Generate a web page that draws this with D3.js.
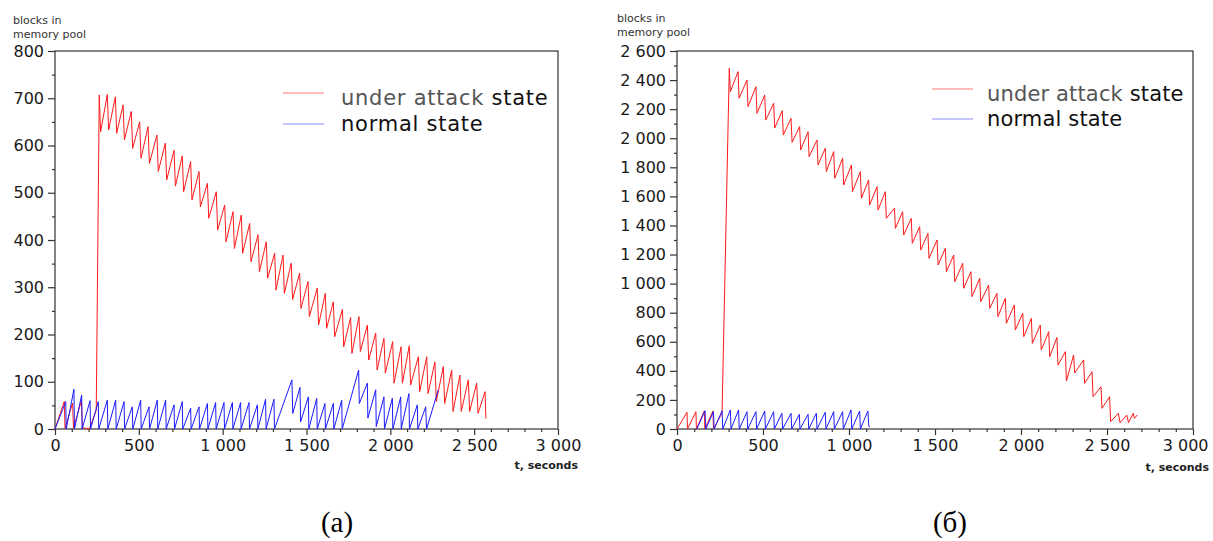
<!DOCTYPE html>
<html><head><meta charset="utf-8">
<script src="https://cdn.jsdelivr.net/npm/d3@7"></script>
<style>body{margin:0;background:#fff}svg{display:block}</style>
</head><body>
<svg id="c" width="1213" height="541"></svg>
<script>
// ---------- data ----------
const xTicks = [0, 500, 1000, 1500, 2000, 2500, 3000];
const leftYTicks = [0, 100, 200, 300, 400, 500, 600, 700, 800];
const rightYTicks = [0, 200, 400, 600, 800, 1000, 1200, 1400, 1600, 1800, 2000, 2200, 2400, 2600];
const legendLabels = ["under attack", "state", "normal state"];
const panelCaptions = ["(a)", "(б)"];
const yTitle = ["blocks in", "memory pool"];
const xTitle = "t, seconds";

// panel (a): under attack state
const leftRedT = [0,55,60,105,110,158,163,205,246,264,272,312,320,360,368,406,414,455,463,505,513,555,563,608,616,658,666,710,718,759,767,809,817,859,867,909,917,962,970,1012,1020,1062,1070,1111,1119,1161,1169,1211,1219,1260,1268,1310,1318,1360,1368,1409,1417,1459,1467,1509,1517,1564,1572,1612,1620,1660,1668,1714,1722,1763,1771,1813,1821,1863,1871,1913,1921,1962,1970,2014,2022,2064,2072,2113,2121,2167,2175,2217,2225,2266,2274,2316,2324,2366,2374,2415,2423,2465,2473,2515,2523,2565,2570];
const leftRedV = [0,58,2,55,2,60,3,0,40,707,629,708,633,703,626,686,612,672,594,650,573,640,562,622,545,605,527,590,514,578,502,566,485,545,470,520,446,502,421,474,396,460,382,453,372,435,354,411,333,396,319,372,294,368,287,351,274,330,255,312,238,298,220,287,213,269,195,253,174,236,160,238,164,220,146,203,125,192,118,185,97,174,97,176,93,153,79,153,75,142,58,132,54,125,37,114,37,104,37,97,33,79,22];
// panel (a): normal state
const leftBlueT = [0,64,67,113,116,159,162,209,212,258,261,312,315,362,365,412,415,461,464,511,514,561,564,610,613,660,663,710,713,759,762,809,812,859,862,909,912,958,961,1008,1011,1058,1061,1107,1110,1157,1160,1207,1210,1256,1259,1306,1309,1413,1418,1461,1465,1511,1514,1561,1564,1610,1613,1660,1663,1710,1713,1811,1815,1863,1866,1913,1916,1962,1965,2012,2015,2062,2065,2111,2114,2161,2164,2211,2216,2286];
const leftBlueV = [0,58,0,84,0,72,0,60,0,58,0,61,0,61,0,58,0,47,0,61,0,47,0,61,0,61,0,51,0,58,0,44,0,47,0,54,0,56,0,56,0,56,0,56,0,56,0,51,0,63,0,63,0,104,33,88,15,68,0,65,0,54,0,54,0,61,0,125,54,97,23,83,5,68,0,65,0,68,0,75,0,51,0,47,0,83];

// panel (б): under attack state
const rightRedT = [0,58,61,110,113,159,162,209,212,262,304,310,355,361,407,413,459,465,510,516,562,568,612,618,663,669,713,719,762,768,814,820,862,868,911,917,963,969,1014,1020,1066,1072,1114,1120,1163,1169,1211,1217,1264,1270,1312,1318,1362,1368,1411,1417,1459,1465,1512,1518,1560,1566,1609,1615,1661,1667,1709,1715,1760,1766,1812,1818,1860,1866,1909,1915,1961,1967,2010,2016,2060,2066,2112,2118,2161,2167,2209,2215,2258,2264,2306,2312,2364,2370,2413,2419,2465,2471,2515,2521,2566,2576,2615,2625,2653,2659,2676];
const rightRedV = [0,115,0,119,0,124,0,124,0,110,2481,2320,2458,2275,2400,2217,2355,2171,2297,2125,2240,2070,2190,2022,2137,1972,2080,1919,2045,1873,1988,1816,1931,1770,1908,1724,1862,1678,1816,1633,1770,1587,1713,1541,1667,1506,1632,1449,1518,1380,1495,1334,1449,1277,1392,1231,1346,1174,1300,1128,1243,1082,1197,1013,1140,968,1082,910,1036,876,990,830,933,773,899,727,853,681,796,635,761,589,715,543,669,497,630,440,532,330,509,385,475,314,394,222,291,142,222,50,108,44,96,44,108,73,96];
// panel (б): normal state
const rightBlueT = [115,163,167,212,216,262,266,310,314,358,362,407,411,459,463,510,514,562,566,610,614,663,667,711,715,762,766,810,814,862,866,911,915,963,967,1012,1016,1062,1066,1110,1115,1122];
const rightBlueV = [0,126,0,120,0,125,0,131,0,131,0,119,0,119,0,124,0,119,0,108,0,108,0,101,0,101,0,108,0,115,0,119,0,119,0,131,0,124,0,124,20,16];

// ---------- drawing ----------
const svg = d3.select("#c");
const RED = "#ff1a1a", BLUE = "#1a1aff", AXIS = "#333";
const fmt = d3.formatLocale({decimal: ".", thousands: "\u2009", grouping: [3], currency: ["", ""]}).format(",d");
const fmtSp = v => fmt(v).replace("\u2009", " ");

function panel(o) {
  const g = svg.append("g");
  const x = d3.scaleLinear().domain([0, 3000]).range([o.x0, o.x1]);
  const y = d3.scaleLinear().domain([0, o.yMax]).range([429, 51]);

  // frame
  g.append("rect").attr("x", o.x0).attr("y", 51).attr("width", o.x1 - o.x0).attr("height", 378)
    .attr("fill", "none").attr("stroke", AXIS).attr("stroke-width", 1.2);

  // y axis
  const yAxis = d3.axisLeft(y).tickValues(o.yTicks).tickSize(7).tickPadding(4).tickFormat(fmtSp);
  g.append("g").attr("transform", `translate(${o.x0},0)`).call(yAxis);
  const yMinor = d3.axisLeft(y).tickValues(d3.range(0, o.yMax + 1, o.yMinor).filter(v => o.yTicks.indexOf(v) < 0)).tickSize(3).tickFormat("");
  g.append("g").attr("transform", `translate(${o.x0},0)`).call(yMinor);

  // x axis
  const xAxis = d3.axisBottom(x).tickValues(xTicks).tickSize(6).tickPadding(5).tickFormat(fmtSp);
  const xa = g.append("g").attr("transform", `translate(0,429)`).call(xAxis);
  const xMinor = d3.axisBottom(x).tickValues(d3.range(0, 3001, 100).filter(v => xTicks.indexOf(v) < 0)).tickSize(3).tickFormat("");
  g.append("g").attr("transform", `translate(0,429)`).call(xMinor);

  g.selectAll(".domain").remove();
  g.selectAll(".tick line").attr("stroke", AXIS).attr("stroke-width", 1.2);
  g.selectAll(".tick text").attr("fill", "#1a1a1a").attr("font-family", "DejaVu Sans").attr("font-size", 16);
  if (o.lastLabelEnd) {
    xa.selectAll(".tick").filter(d => d === 3000).select("text")
      .attr("text-anchor", "end").attr("x", o.lastLabelEnd - o.x1);
  }

  // axis titles
  g.append("text").attr("x", o.tx).attr("y", o.ty).attr("font-family", "DejaVu Sans").attr("font-size", 11).attr("fill", "#333").text(yTitle[0]);
  g.append("text").attr("x", o.tx).attr("y", o.ty + 14).attr("font-family", "DejaVu Sans").attr("font-size", 11).attr("fill", "#333").text(yTitle[1]);
  g.append("text").attr("x", o.xtEnd).attr("y", o.xtY).attr("text-anchor", "end").attr("font-family", "DejaVu Sans").attr("font-weight", "bold").attr("font-size", 11).attr("fill", "#222").text(xTitle);

  // lines
  const line = d3.line().x(d => x(d[0])).y(d => y(d[1]));
  const red = o.redT.map((t, i) => [t, o.redV[i]]);
  const blue = o.blueT.map((t, i) => [t, o.blueV[i]]);
  g.append("path").datum(red).attr("d", line).attr("fill", "none").attr("stroke", RED).attr("stroke-width", 1);
  g.append("path").datum(blue).attr("d", line).attr("fill", "none").attr("stroke", BLUE).attr("stroke-width", 1);

  // legend
  const L = o.leg;
  g.append("line").attr("x1", L.x).attr("x2", L.x + 41).attr("y1", L.y1).attr("y2", L.y1).attr("stroke", RED).attr("stroke-opacity", 0.6).attr("stroke-width", 1.2);
  g.append("line").attr("x1", L.x).attr("x2", L.x + 41).attr("y1", L.y2).attr("y2", L.y2).attr("stroke", BLUE).attr("stroke-opacity", 0.5).attr("stroke-width", 1.2);
  const t1 = g.append("text").attr("x", L.tx).attr("y", L.y1 + 12).attr("font-family", "DejaVu Sans").attr("font-size", 21).attr("letter-spacing", L.ls);
  t1.append("tspan").attr("fill", "#555").text(legendLabels[0] + " ");
  t1.append("tspan").attr("fill", "#111").text(legendLabels[1]);
  g.append("text").attr("x", L.tx).attr("y", L.y2 + 7).attr("font-family", "DejaVu Sans").attr("font-size", 21).attr("letter-spacing", L.ls).attr("fill", "#111").text(legendLabels[2]);

  // caption
  g.append("text").attr("x", o.capX).attr("y", 532).attr("text-anchor", "middle").attr("font-family", "Liberation Serif").attr("font-size", 29).attr("fill", "#000").text(o.cap);
}

panel({x0: 55, x1: 558, yMax: 800, yTicks: leftYTicks, yMinor: 50, tx: 13, ty: 24,
  xtEnd: 578, xtY: 469,
  redT: leftRedT, redV: leftRedV, blueT: leftBlueT, blueV: leftBlueV,
  leg: {x: 283, y1: 93, y2: 124, tx: 341, ls: 0.75}, capX: 337, cap: panelCaptions[0]});
panel({x0: 677, x1: 1193, yMax: 2600, yTicks: rightYTicks, yMinor: 100, tx: 617, ty: 22,
  xtEnd: 1209, xtY: 471, lastLabelEnd: 1208,
  redT: rightRedT, redV: rightRedV, blueT: rightBlueT, blueV: rightBlueV,
  leg: {x: 932, y1: 89, y2: 119, tx: 987, ls: 0.15}, capX: 950, cap: panelCaptions[1]});
</script>
</body></html>
